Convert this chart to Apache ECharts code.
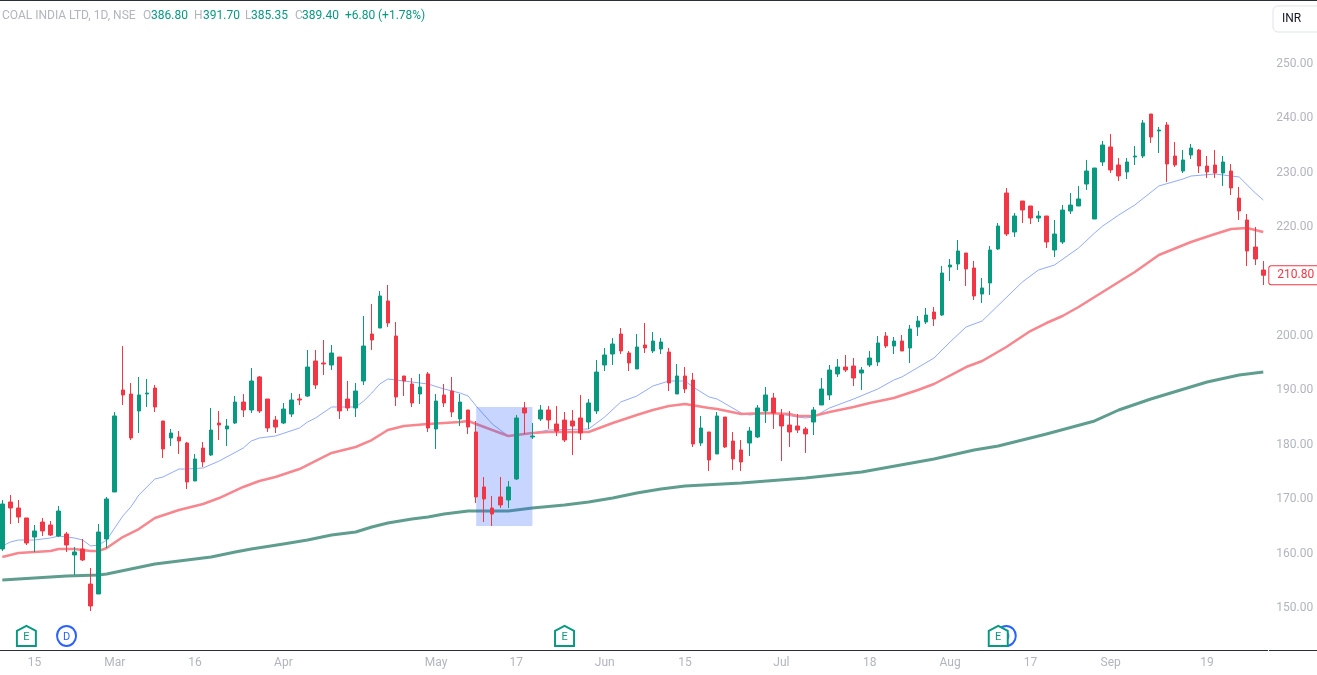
<!DOCTYPE html>
<html>
<head>
<meta charset="utf-8">
<title>COAL INDIA LTD, 1D, NSE</title>
<script src="https://cdn.jsdelivr.net/npm/echarts@6/dist/echarts.min.js"></script>
<style>
  html, body { margin: 0; padding: 0; background: #fff; }
  #chart { width: 1317px; height: 675px; }
</style>
</head>
<body>
<div id="chart"></div>
<script>
// daily candles, oldest first
const openV = [
  160.48,169.12,168.01,166.18,162.68,165.44,164.89,162.87,163.24,159.38,
  160.48,154.04,152.21,162.32,170.96,189.71,188.97,185.85,188.97,190.07,
  184.01,180.88,181.07,179.96,172.98,179.04,177.76,183.64,182.54,183.64,
  187.50,186.03,192.10,188.05,184.19,183.64,185.29,188.05,188.60,195.04,
  194.67,194.30,195.77,188.05,186.40,191.36,200.00,201.10,206.07,199.63,
  192.28,190.81,188.97,192.65,182.54,188.79,189.52,184.38,186.03,181.99,
  171.88,168.01,170.04,169.49,173.35,186.40,181.07,184.38,186.03,183.46,
  184.19,184.01,184.56,183.82,185.85,194.30,196.32,200.00,196.51,193.57,
  197.98,196.88,197.24,196.69,188.97,192.28,191.54,179.96,181.99,177.94,
  184.74,180.33,178.68,179.96,181.07,185.85,188.24,185.11,183.27,183.09,
  182.54,183.82,186.95,188.79,192.65,193.93,194.12,192.83,194.30,194.85,
  199.63,197.79,198.71,197.43,201.29,202.21,204.04,203.49,212.32,212.87,
  214.89,212.13,207.35,209.38,215.63,225.92,218.75,224.45,223.53,221.32,
  221.69,215.44,216.91,222.61,223.53,227.57,221.14,231.62,234.38,231.07,
  229.78,232.54,232.72,240.44,237.32,238.42,232.72,229.96,232.90,233.82,
  230.88,231.07,229.60,229.96,225.00,220.96,215.99,211.76
];
const closeV = [
  168.75,168.01,166.36,161.58,163.79,163.79,163.05,167.46,161.21,159.93,
  158.46,150.00,163.60,169.67,184.93,188.79,180.88,188.79,189.15,186.58,
  178.86,181.80,180.33,172.79,177.02,176.47,182.35,183.27,183.09,187.50,
  186.03,191.36,185.85,182.72,182.90,186.21,187.87,187.87,193.93,190.63,
  194.49,196.51,185.85,186.40,189.52,197.79,198.90,206.99,202.02,188.42,
  191.36,187.32,190.26,182.72,187.68,187.32,185.66,187.50,182.90,170.04,
  169.67,166.91,168.57,171.88,184.56,185.48,181.25,186.03,184.19,182.17,
  180.51,183.09,181.80,187.32,193.01,196.14,198.16,196.88,194.67,197.61,
  197.43,198.71,198.53,190.99,192.28,189.89,179.78,182.72,176.84,184.93,
  179.23,177.02,176.47,182.17,186.40,188.79,185.48,183.09,181.99,182.35,
  181.62,186.03,189.89,193.38,193.93,193.38,191.91,193.38,195.59,198.35,
  197.79,198.71,196.88,200.92,202.39,203.49,202.76,211.21,212.68,215.26,
  211.95,206.99,208.46,215.44,219.85,218.38,221.69,222.79,221.32,221.69,
  216.91,218.38,222.79,223.71,224.82,229.96,230.51,234.74,230.15,229.04,
  231.62,232.72,238.79,236.21,237.50,231.25,231.07,231.99,234.19,230.88,
  229.78,229.60,231.62,226.84,222.61,215.26,213.79,210.80
];
const lowV = [
  160.11,165.07,165.26,161.21,159.93,162.87,162.87,162.68,159.93,155.70,
  158.27,149.08,152.21,160.66,170.96,186.95,180.51,181.80,186.58,185.66,
  177.21,179.41,177.94,171.51,172.98,175.55,177.57,180.51,179.41,183.46,
  184.74,185.48,185.48,181.99,181.80,183.46,184.74,186.95,188.42,189.89,
  192.46,193.38,184.38,185.85,184.74,190.63,197.06,201.10,201.29,186.76,
  188.60,186.58,187.13,181.99,178.86,186.58,184.74,183.09,181.62,168.93,
  165.44,164.71,168.01,168.01,173.16,181.62,180.70,184.01,182.54,181.25,
  180.15,177.76,180.51,182.54,185.29,193.20,194.30,196.32,193.20,193.57,
  196.51,196.51,196.32,189.52,188.97,189.15,179.23,179.41,174.82,177.94,
  179.04,175.00,174.82,177.57,180.88,183.64,182.54,176.65,179.23,181.80,
  178.13,181.43,186.95,187.87,192.10,193.01,190.44,189.71,193.93,194.12,
  197.43,196.32,196.88,194.67,199.63,201.84,201.47,203.31,209.74,211.76,
  208.82,206.25,205.70,207.17,215.44,218.01,217.83,220.40,220.22,220.59,
  215.81,214.15,216.54,222.06,223.53,226.47,221.14,230.88,229.60,228.13,
  228.49,231.07,232.35,235.11,233.27,227.94,230.70,229.60,232.17,229.60,
  228.68,228.68,227.21,225.55,220.96,212.50,212.68,209.01
];
const highV = [
  169.49,170.40,169.49,166.18,164.89,166.18,165.63,168.38,163.60,160.85,
  162.32,156.99,165.07,170.04,185.66,197.79,190.99,192.10,191.73,190.63,
  184.01,182.54,182.17,180.15,177.94,180.15,186.40,185.85,184.38,188.60,
  188.97,193.75,192.28,188.05,184.93,187.32,189.15,188.97,197.06,197.06,
  198.90,197.98,195.77,191.36,190.99,203.31,205.51,207.90,209.01,202.21,
  192.28,191.91,192.65,193.01,188.97,190.81,192.10,188.97,186.03,184.01,
  173.71,170.22,173.71,172.98,185.11,187.50,183.64,186.95,186.76,186.76,
  185.66,186.03,188.79,188.05,195.22,197.43,199.26,201.10,196.88,200.00,
  202.02,200.37,199.26,197.43,194.49,193.93,192.83,184.93,181.99,185.66,
  184.74,181.99,180.51,182.90,186.95,190.26,189.15,186.21,185.85,185.29,
  182.90,186.58,191.91,194.30,195.40,196.14,195.59,193.93,196.88,199.63,
  200.37,199.45,199.82,201.65,203.31,204.78,204.96,212.50,213.79,217.28,
  214.89,213.42,210.29,216.18,220.40,226.84,222.24,224.45,223.53,222.61,
  221.69,220.96,223.71,225.92,227.21,231.99,230.51,235.48,236.76,232.35,
  232.35,234.56,239.34,240.44,238.05,238.97,235.29,233.82,234.93,234.01,
  232.72,233.82,232.72,231.25,227.02,222.06,219.67,213.42
];

// moving averages, read at the candles where the line bends
const maFastAt = [0,1,2,4,6,7,9,10,11,12,13,14,15,16,17,19,20,22,23,25,27,30,31,32,34,37,38,39,41,44,45,46,47,48,49,53,55,57,58,59,61,63,66,68,73,75,77,79,81,83,85,86,88,89,92,93,96,99,100,101,103,106,109,111,112,116,118,120,122,127,129,131,134,136,137,139,141,144,147,148,151,154,155,156,157];
const maFastV = [161.03,161.76,162.13,162.13,162.50,162.87,162.50,162.13,161.03,161.21,162.13,164.34,166.54,168.20,170.40,173.35,173.71,175.18,175.18,175.37,176.65,179.04,180.33,180.88,181.25,182.72,183.82,184.56,186.58,186.58,187.68,189.15,190.81,191.73,191.54,190.81,189.89,189.15,188.60,186.76,183.46,181.25,181.80,182.35,182.54,184.74,187.50,188.60,190.44,191.36,191.36,190.26,188.42,188.05,185.48,185.11,185.48,184.74,184.56,184.74,186.40,188.05,189.89,191.54,192.10,195.59,198.53,201.29,202.39,209.56,211.76,212.68,215.81,218.57,219.85,221.87,223.71,227.21,228.49,229.04,229.41,228.86,227.39,225.92,224.63];

const maMidAt = [0,2,4,6,7,9,11,12,13,15,17,19,22,25,27,30,32,34,37,41,44,46,48,50,53,55,57,58,59,61,63,66,68,73,76,79,81,83,85,88,89,92,95,98,99,101,103,106,108,111,114,116,120,122,125,128,130,132,134,136,138,141,144,148,151,153,155,157];
const maMidV = [159.01,159.74,159.93,160.11,160.48,160.48,160.11,160.11,160.66,162.68,164.15,166.18,167.65,168.75,169.85,171.88,172.98,173.71,175.18,178.13,179.23,180.51,182.35,183.09,183.46,183.64,183.82,184.01,183.46,182.35,181.25,181.80,181.99,181.99,183.64,185.11,186.03,186.76,187.13,186.40,186.21,185.29,185.48,185.29,184.93,184.93,185.66,186.58,187.32,188.24,189.71,190.81,193.93,195.04,197.61,200.55,202.02,203.31,204.96,206.80,208.64,211.40,214.52,216.91,218.38,219.30,219.49,218.75];

const maSlowAt = [0,4,8,12,13,16,19,22,25,26,29,31,35,38,41,44,46,48,51,53,55,58,63,66,70,73,76,79,82,85,92,100,107,116,121,124,130,136,139,143,150,154,157];
const maSlowV = [154.78,155.15,155.51,155.70,155.88,156.80,157.72,158.27,158.82,159.01,159.93,160.48,161.40,162.13,163.05,163.60,164.52,165.26,165.99,166.36,166.91,167.46,167.46,168.01,168.57,169.12,169.85,170.77,171.51,172.06,172.61,173.53,174.63,177.02,178.68,179.41,181.62,184.01,186.03,188.05,191.18,192.46,193.01];

const tickAt = [4,14,24,35,54,64,75,85,97,108,118,128,138,150];
const tickLabels = ['15','Mar','16','Apr','May','17','Jun','15','Jul','18','Aug','17','Sep','19'];

const earningsAt = [3,70,124];
const dividendAt = [8,125];
const eventLevel = 144.5;

const zoneFrom = 59, zoneTo = 66, zoneTop = 186.58, zoneBottom = 164.71;

const headerTexts = ['COAL INDIA LTD, 1D, NSE','O','386.80','H','391.70','L','385.35','C','389.40','+6.80','(+1.78%)'];

const upColor = '#089981';
const downColor = '#f23645';
const labelColor = '#b2b5be';
const fontName = 'Roboto';

const categories = openV.map((v, i) => String(i));
const candles = openV.map((v, i) => [v, closeV[i], lowV[i], highV[i]]);
const pairs = (at, vals) => at.map((d, i) => [d, vals[i]]);

const headerX = [2,143,151,194,203,245,251,295,302,345,378];
const headerGraphics = headerTexts.map((t, i) => ({
  type: 'text',
  left: headerX[i],
  top: 10,
  style: {
    text: t,
    fill: (i === 0 || t.length === 1) ? labelColor : upColor,
    font: '12px ' + fontName
  }
}));

const myEcharts = echarts.init(document.getElementById('chart'), null, { renderer: 'canvas' });

function lineSeries(data, color, width) {
  return {
    type: 'line',
    data: data,
    showSymbol: false,
    silent: true,
    z: 2,
    lineStyle: { color: color, width: width, join: 'round' },
    animation: false
  };
}

function eventSeries(at, text, color, symbol, z) {
  return {
    type: 'scatter',
    data: at.map(d => [d, eventLevel]),
    symbol: symbol,
    symbolSize: [19, 20],
    z: z,
    silent: true,
    itemStyle: { color: '#fff', borderColor: color, borderWidth: 2, opacity: 1 },
    label: { show: true, position: 'inside', formatter: text, color: color, fontSize: 11, fontFamily: fontName, offset: [0, 1] },
    animation: false
  };
}

const option = {
  backgroundColor: '#fff',
  animation: false,
  textStyle: { fontFamily: fontName },
  // first and last candle sit on the grid edges, so the band is 1261 / 157 wide
  grid: { left: 2.3, width: 1261, top: 7.6, bottom: 14.6, containLabel: false },
  xAxis: {
    type: 'category',
    data: categories,
    boundaryGap: false,
    offset: -10.4,
    axisLine: { show: false },
    axisTick: { show: false },
    splitLine: { show: false },
    axisLabel: {
      interval: (i) => tickAt.includes(i),
      formatter: (v, i) => tickLabels[tickAt.indexOf(i)] || '',
      color: labelColor,
      fontSize: 12,
      margin: 7
    }
  },
  yAxis: {
    type: 'value',
    position: 'right',
    min: 140,
    max: 260,
    interval: 10,
    scale: true,
    axisLine: { show: false },
    axisTick: { show: false },
    splitLine: { show: false },
    axisLabel: {
      formatter: (v) => v.toFixed(2),
      showMinLabel: false,
      showMaxLabel: false,
      color: labelColor,
      fontSize: 12,
      margin: 13,
      verticalAlign: 'top',
      padding: [-4, 0, 0, 0]
    }
  },
  series: [
    lineSeries(pairs(maFastAt, maFastV), '#92abfb', 1),
    lineSeries(pairs(maMidAt, maMidV), '#f7868e', 2.5),
    lineSeries(pairs(maSlowAt, maSlowV), '#5f9e8f', 3),
    {
      type: 'candlestick',
      data: candles,
      barWidth: 4,
      clip: false,
      z: 4,
      silent: true,
      itemStyle: { color: upColor, color0: downColor, borderColor: upColor, borderColor0: downColor, borderWidth: 1 },
      markArea: {
        silent: true,
        z: 3,
        itemStyle: { color: 'rgba(41,98,255,0.26)' },
        data: [[
          { xAxis: zoneFrom, yAxis: zoneTop },
          { xAxis: zoneTo, yAxis: zoneBottom }
        ]]
      },
      markLine: {
        silent: true,
        symbol: 'none',
        lineStyle: { color: 'transparent', width: 0 },
        label: {
          show: true,
          position: 'end',
          distance: 6,
          formatter: (p) => Number(p.value).toFixed(2),
          color: downColor,
          fontSize: 12,
          backgroundColor: '#fff',
          borderColor: downColor,
          borderWidth: 1,
          borderRadius: 2,
          padding: [3, 6, 3, 8]
        },
        data: [{ yAxis: closeV[closeV.length - 1] }]
      }
    },
    eventSeries(dividendAt, 'D', '#2962ff', 'circle', 5),
    eventSeries(earningsAt, 'E', upColor, 'path://M0 5 L9 0 L18 5 L18 20 L0 20 Z', 6)
  ],
  graphic: [
    { type: 'rect', left: 0, top: 0, shape: { width: 1317, height: 1 }, style: { fill: '#2a2e39' } },
    { type: 'rect', left: 0, top: 650, shape: { width: 1268, height: 1 }, style: { fill: '#2a2e39' } },
    { type: 'rect', left: 1269, top: 650, shape: { width: 48, height: 1 }, style: { fill: '#2a2e39' } },
    { type: 'rect', left: 1272.5, top: 5.5, shape: { width: 50, height: 26, r: 5 }, style: { fill: '#fff', stroke: '#e0e3eb', lineWidth: 1 } },
    { type: 'text', left: 1282, top: 13, style: { text: 'INR', fill: '#131722', font: '12px ' + fontName } }
  ].concat(headerGraphics)
};

myEcharts.setOption(option);
</script>
</body>
</html>
